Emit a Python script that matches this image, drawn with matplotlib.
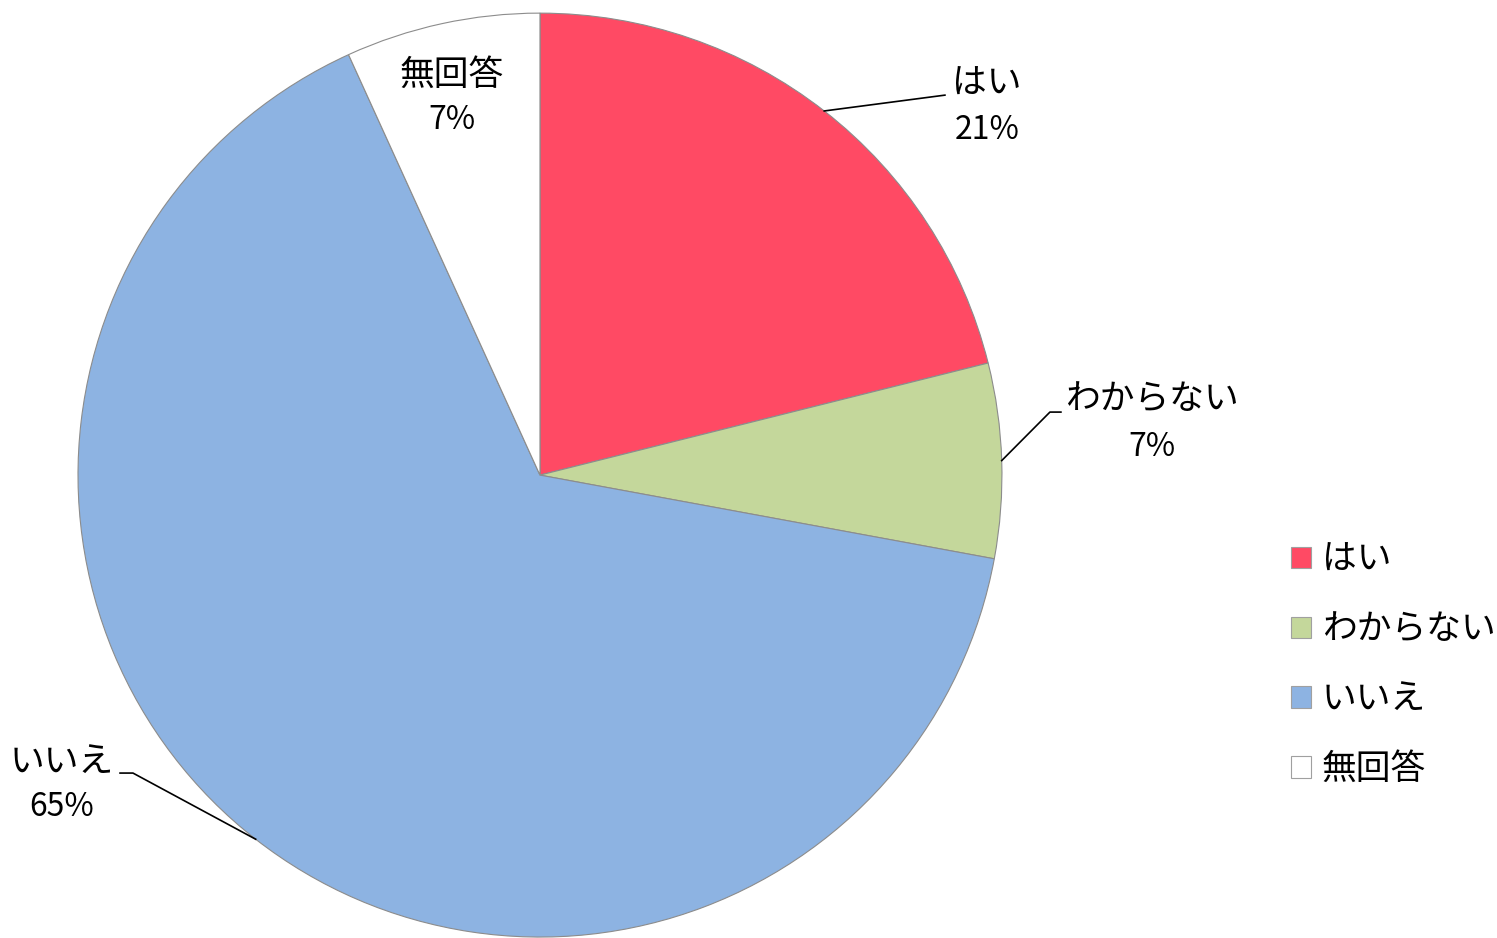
import numpy as np
import matplotlib
matplotlib.use("Agg")
import matplotlib.pyplot as plt
from matplotlib.patches import Patch

plt.rcParams['font.family'] = ['Noto Sans CJK JP', 'DejaVu Sans']

# data
labels = ["はい", "わからない", "いいえ", "無回答"]
values = [21.1, 6.8, 65.3, 6.8]
colors = ["#FF4A64", "#C4D79B", "#8DB3E2", "#FFFFFF"]

fig = plt.figure(figsize=(14.97, 9.38), dpi=100)
ax = fig.add_axes([0.0521, 0.001, 0.6172, 0.985])

wedges, _ = ax.pie(values, colors=colors, startangle=90, counterclock=False,
                   radius=1.0,
                   wedgeprops=dict(edgecolor="#8c8c8c", linewidth=0.8))
ax.set_xlim(-1, 1)
ax.set_ylim(-1, 1)
ax.set_aspect("equal")
ax.axis("off")

fs = 25
# label placement (name pos, pct pos, leader path after the wedge edge or None)
layout = {
    "はい": ((0.9675, 0.846), (0.9675, 0.747), [(0.8766, 0.8225)]),
    "わからない": ((1.3247, 0.163), (1.3247, 0.061), [(1.1039, 0.1364), (1.1277, 0.1364)]),
    "いいえ": ((-1.0346, -0.621), (-1.0346, -0.719), [(-0.881, -0.645), (-0.909, -0.645)]),
    "無回答": ((-0.1905, 0.866), (-0.1905, 0.768), None),
}

total = sum(values)
for w, lab, v in zip(wedges, labels, values):
    (nx, ny), (px, py), path = layout[lab]
    ax.text(nx, ny, lab, ha="center", va="center", fontsize=fs)
    ax.text(px, py, f"{round(v / total * 100)}%", ha="center", va="center", fontsize=23)
    if path is not None:
        mid = np.deg2rad((w.theta1 + w.theta2) / 2)
        xs = [np.cos(mid)] + [p[0] for p in path]
        ys = [np.sin(mid)] + [p[1] for p in path]
        ax.plot(xs, ys, color="black", lw=1.2, clip_on=False)

handles = [Patch(facecolor=c, edgecolor="#a0a0a0", linewidth=0.8) for c in colors]
fig.legend(handles, labels, loc="center left",
           bbox_to_anchor=(1291 / 1497, (938 - 665) / 938),
           frameon=False, fontsize=fs, handlelength=0.58, handleheight=0.58,
           handletextpad=0.3, labelspacing=1.0, borderpad=0, borderaxespad=0)

fig.savefig("out.png", dpi=100)
